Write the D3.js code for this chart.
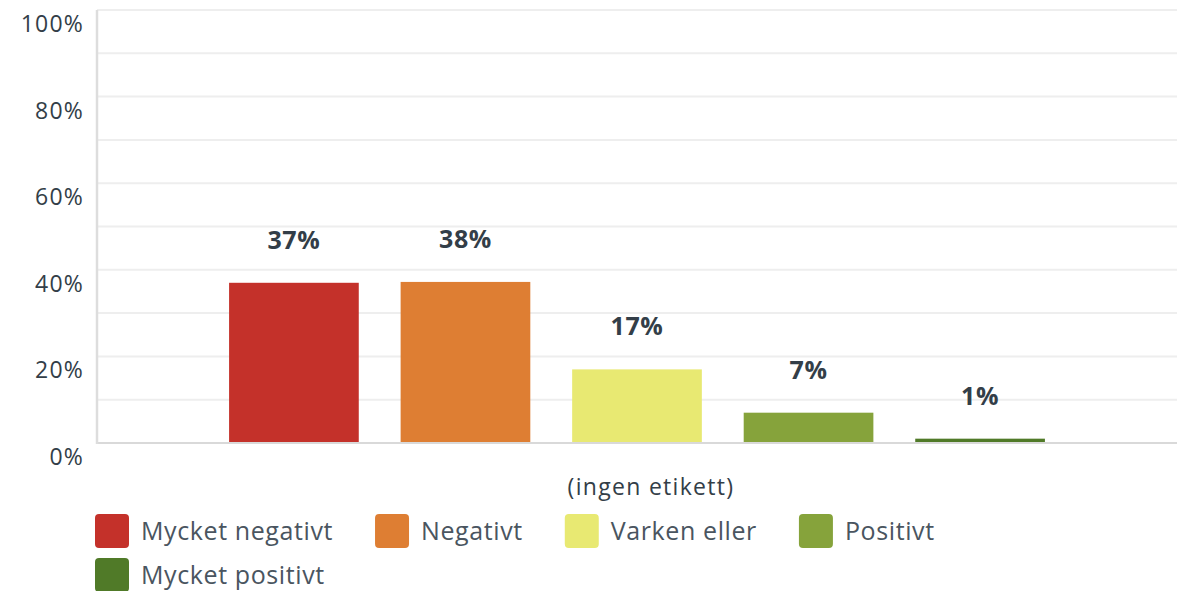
<!DOCTYPE html>
<html>
<head>
<meta charset="utf-8">
<script src="https://cdn.jsdelivr.net/npm/d3@7"></script>
<style>
  body { margin: 0; background: #fff; }
  text { font-family: "Open Sans", sans-serif; }
</style>
</head>
<body>
<div id="G"></div>
<script>
// data
var series = ["Mycket negativt", "Negativt", "Varken eller", "Positivt", "Mycket positivt"];
var values = [37, 37.2, 17, 7, 1];
var labels = ["37%", "38%", "17%", "7%", "1%"];
var colors = ["#c4312a", "#de7e33", "#e8e972", "#86a33b", "#507a28"];
var yTicks = [0, 20, 40, 60, 80, 100];
var category = "(ingen etikett)";

var W = 1182, H = 591;
var Border = { top: 10, right: 5, bottom: 148, left: 97 };
var width = W - Border.left - Border.right,
  height = H - Border.top - Border.bottom;

var svg = d3.select("#G").append("svg")
  .attr("width", W)
  .attr("height", H);

var g = svg.append("g")
  .attr("transform", "translate(" + Border.left + "," + Border.top + ")");

var y = d3.scaleLinear().domain([0, 100]).range([height, 0]);
var x = d3.scaleBand().domain(series).range([0, width])
  .paddingInner(0.244).paddingOuter(0.77);

// gridlines (every 10%)
g.append("g").selectAll("line")
  .data(d3.range(10, 101, 10))
  .join("line")
  .attr("x1", 0).attr("x2", width)
  .attr("y1", d => y(d)).attr("y2", d => y(d))
  .attr("stroke", "#eeeeee")
  .attr("stroke-width", 2);

// y labels
g.append("g").selectAll("text")
  .data(yTicks)
  .join("text")
  .attr("x", -13)
  .attr("y", d => y(d) + 22)
  .attr("text-anchor", "end")
  .attr("font-size", 23)
  .attr("letter-spacing", 1.2)
  .attr("fill", "#333e48")
  .text(d => d + "%");

// bars
g.append("g").selectAll("rect")
  .data(values)
  .join("rect")
  .attr("x", (d, i) => x(series[i]))
  .attr("y", d => y(d))
  .attr("width", x.bandwidth())
  .attr("height", d => height - y(d))
  .attr("fill", (d, i) => colors[i]);

// value labels
g.append("g").selectAll("text")
  .data(values)
  .join("text")
  .attr("x", (d, i) => x(series[i]) + x.bandwidth() / 2)
  .attr("y", d => y(d) - 34)
  .attr("text-anchor", "middle")
  .attr("font-size", 25)
  .attr("font-weight", "bold")
  .attr("letter-spacing", 0.6)
  .attr("fill", "#333e48")
  .text((d, i) => labels[i]);

// axis lines
g.append("line")
  .attr("x1", 0).attr("x2", width)
  .attr("y1", height).attr("y2", height)
  .attr("stroke", "#d9d9d9").attr("stroke-width", 2);
g.append("line")
  .attr("x1", 0).attr("x2", 0)
  .attr("y1", 0).attr("y2", height + 1)
  .attr("stroke", "#dddddd").attr("stroke-width", 2.5);

// category label
g.append("text")
  .attr("x", 554)
  .attr("y", height + 52)
  .attr("text-anchor", "middle")
  .attr("font-size", 23)
  .attr("letter-spacing", 1.3)
  .attr("fill", "#333e48")
  .text(category);

// legend
var leg = svg.append("g");
var lx = 95, ly = 514, box = 34, gap = 42, rowH = 44;
series.forEach(function (s, i) {
  var item = leg.append("g");
  item.append("rect")
    .attr("width", box).attr("height", box)
    .attr("rx", 4)
    .attr("fill", colors[i]);
  var t = item.append("text")
    .attr("x", box + 12)
    .attr("y", box / 2 + 9)
    .attr("font-size", 25)
    .attr("letter-spacing", 0.6)
    .attr("fill", "#4a5560")
    .text(s);
  var w = box + 12 + t.node().getComputedTextLength();
  if (lx + w > W - 10) { lx = 95; ly += rowH; }
  item.attr("transform", "translate(" + lx + "," + ly + ")");
  lx += w + gap;
});
</script>
</body>
</html>
